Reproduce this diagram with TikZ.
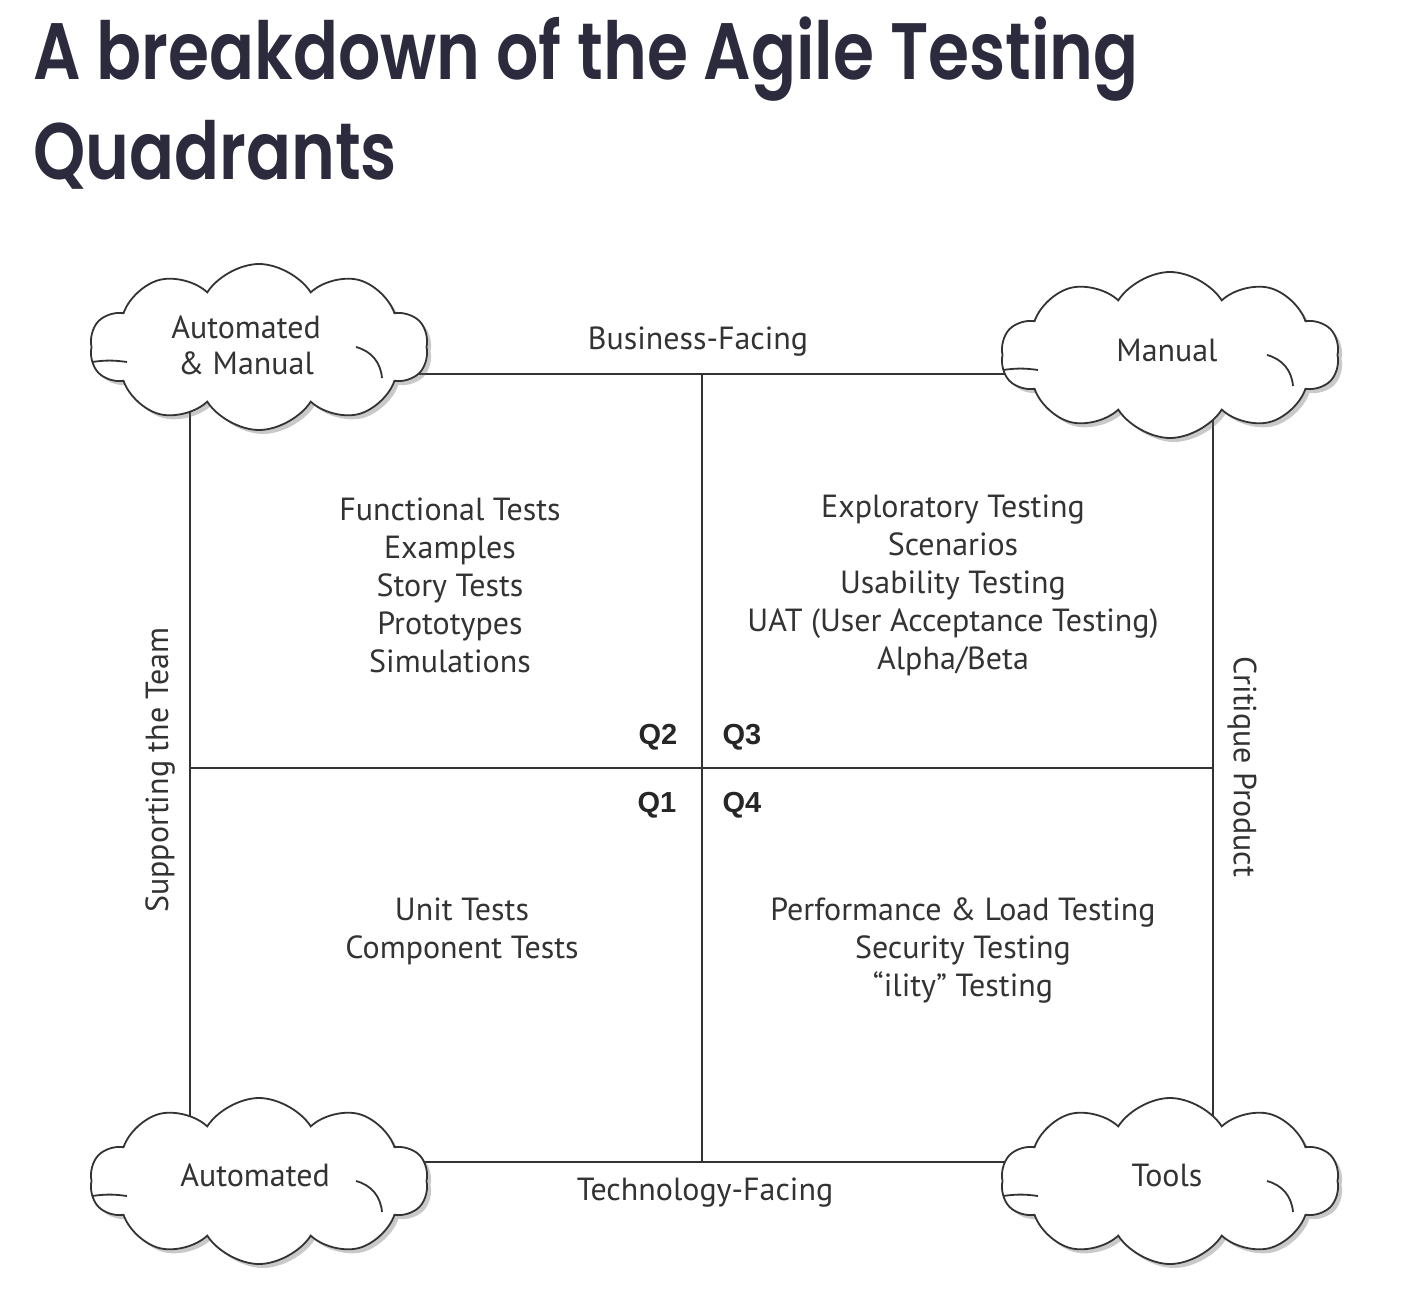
\documentclass[tikz,border=0pt]{standalone}
\usepackage{fontspec}
\setmainfont{PT Sans}
\newfontfamily\titlefont{Poppins}[BoldFont={Poppins SemiBold}]
\newfontfamily\qfont{Liberation Sans}
\usetikzlibrary{shapes.symbols,shadows}
\definecolor{titlecol}{HTML}{2C2B3E}
\definecolor{ink}{HTML}{333333}
\tikzset{
  frameline/.style={draw=ink, line width=1.8pt},
  cloudbox/.style={cloud, cloud puffs=10, cloud puff arc=115, aspect=2,
    minimum width=338pt, minimum height=166pt, inner sep=0pt,
    draw=ink, line width=1.8pt, fill=white,
    drop shadow={shadow xshift=4pt, shadow yshift=-4pt, opacity=0.35, fill=black!60}},
  cloudtext/.style={text=ink, align=center, font=\fontsize{32}{36}\selectfont},
  curl/.style={draw=ink, line width=1.8pt},
  body/.style={text=ink, align=center, font=\fontsize{32}{38}\selectfont},
  qlab/.style={text=black!85, font=\qfont\bfseries\fontsize{29}{30}\selectfont},
  titletext/.style={anchor=base west, inner sep=0pt, text=titlecol, font=\titlefont\bfseries\fontsize{80}{90}\selectfont},
}
\begin{document}
\begin{tikzpicture}[x=1pt,y=-1pt]
\useasboundingbox (0,0) rectangle (1426,1308);
\fill[white] (0,0) rectangle (1426,1308);
% title
\node[titletext] (t1) at (33,80) {\scalebox{0.83}[1]{A breakdown of the Agile Testing}};
\node[titletext] (t2) at (33,180) {\scalebox{0.83}[1]{Quadrants}};
% frame coordinates
\coordinate (ctl) at (190,374);
\coordinate (ctr) at (1213,374);
\coordinate (cbl) at (190,1162);
\coordinate (cbr) at (1213,1162);
\coordinate (mt) at (702,374);
\coordinate (mb) at (702,1162);
\coordinate (ml) at (190,768);
\coordinate (mr) at (1213,768);
\draw[frameline] (ctl) -- (ctr) -- (cbr) -- (cbl) -- cycle;
\draw[frameline] (mt) -- (mb);
\draw[frameline] (ml) -- (mr);
% clouds
\node[cloudbox] (cTL) at (259,347) {};
\node[cloudbox] (cTR) at (1170,355) {};
\node[cloudbox] (cBL) at (259,1181) {};
\node[cloudbox] (cBR) at (1170,1181) {};
\foreach \c in {cTL,cTR,cBL,cBR}{
  \draw[curl] ([shift={(-167,15)}]\c.center) to[bend left=8] ([shift={(-132,15)}]\c.center);
  \draw[curl] ([shift={(97,0)}]\c.center) to[bend left=35] ([shift={(123,31)}]\c.center);
}
\node[cloudtext] (lTL) at (246,345) {Automated\\\& Manual};
\node[cloudtext] (lTR) at (1167,350) {Manual};
\node[cloudtext] (lBL) at (255,1175) {Automated};
\node[cloudtext] (lBR) at (1167,1175) {Tools};
% axis labels
\node[body] (bf) at (698,342) {Business-Facing};
\node[body] (tf) at (705,1193) {Technology-Facing};
\node[body, rotate=90] (st) at (160,770) {Supporting the Team};
\node[body, rotate=-90] (cp) at (1242,767) {Critique Product};
% quadrant labels
\node[qlab] (q2) at (658,737) {Q2};
\node[qlab] (q3) at (742,737) {Q3};
\node[qlab] (q1) at (657,805) {Q1};
\node[qlab] (q4) at (742,805) {Q4};
% quadrant contents
\node[body] (b2) at (450,585) {Functional Tests\\Examples\\Story Tests\\Prototypes\\Simulations};
\node[body] (b3) at (953,585) {Exploratory Testing\\Scenarios\\Usability Testing\\UAT (User Acceptance Testing)\\Alpha/Beta};
\node[body] (b1) at (462,931) {Unit Tests\\Component Tests};
\node[body] (b4) at (963,950) {Performance \& Load Testing\\Security Testing\\“ility” Testing};
\end{tikzpicture}
\end{document}
